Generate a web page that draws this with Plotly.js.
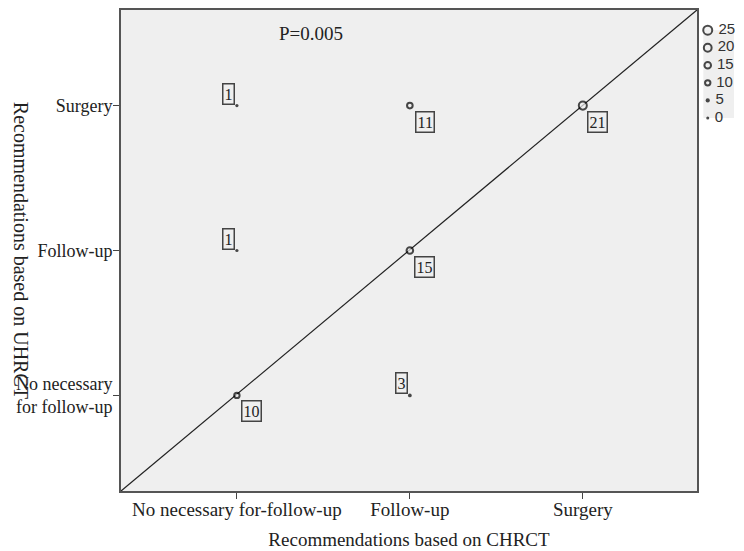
<!DOCTYPE html>
<html>
<head>
<meta charset="utf-8">
<script src="https://cdn.plot.ly/plotly-3.0.1.min.js"></script>
<style>html,body{margin:0;padding:0;background:#fff;}#chart{width:744px;height:551px;}</style>
</head>
<body>
<div id="chart"></div>
<script>
// Categories (index positions on each axis)
const xCategories = ["No necessary for-follow-up", "Follow-up", "Surgery"];
const yCategories = ["No necessary<br>for follow-up", "Follow-up", "Surgery"];

// Points: CHRCT category index, UHRCT category index, count
const pointX = [0, 1, 2, 0, 1, 0, 1];
const pointY = [2, 2, 2, 1, 1, 0, 0];
const counts = [1, 11, 21, 1, 15, 10, 3];
// label placement: +1 = below-right, -1 = above-left
const labelSide = [-1, 1, 1, -1, 1, 1, -1];

// Legend scale values
const legendValues = [25, 20, 15, 10, 5, 0];

const pText = "P=0.005";

function mSize(n){ return 3 + n * 0.24; }
function mFill(n){ return n <= 8 ? "#000" : "#efefef"; }
function mLine(n){ return n <= 8 ? 0 : 2; }

const serif = "Liberation Serif, Times New Roman, serif";

const traces = [
  {
    x: pointX, y: pointY, type: "scatter", mode: "markers",
    marker: {size: counts.map(mSize), color: counts.map(mFill),
             line: {color: "#000", width: counts.map(mLine)}},
    cliponaxis: false, hoverinfo: "none", showlegend: false
  },
  {
    x: legendValues.map(() => 0), y: legendValues, xaxis: "x2", yaxis: "y2",
    type: "scatter", mode: "markers+text",
    text: legendValues.map(v => "\u00a0" + v), textposition: "middle right",
    textfont: {family: "Liberation Sans, Arial, sans-serif", size: 15, color: "#333"},
    marker: {size: legendValues.map(mSize), color: legendValues.map(mFill),
             line: {color: "#000", width: legendValues.map(mLine)}},
    cliponaxis: false, hoverinfo: "none", showlegend: false
  }
];

const annotations = counts.map((n, i) => ({
  x: pointX[i], y: pointY[i], xref: "x", yref: "y",
  text: String(n), showarrow: false,
  xshift: labelSide[i] > 0 ? 15 : -8,
  yshift: labelSide[i] > 0 ? -16 : 12,
  font: {family: serif, size: 16, color: "#222"},
  bordercolor: "#444", borderwidth: 1.5, borderpad: 1, bgcolor: "rgba(0,0,0,0)"
}));
annotations.push({
  x: 0.43, y: 2.5, xref: "x", yref: "y", text: pText, showarrow: false,
  font: {family: serif, size: 19, color: "#222"}
});
annotations.push({
  xref: "paper", yref: "paper", x: -0.162, y: 0.5, xanchor: "center", yanchor: "middle",
  text: "Recommendations based on UHRCT", textangle: 90, showarrow: false,
  font: {family: serif, size: 20, color: "#222"}
});

const layout = {
  width: 744, height: 551,
  margin: {l: 121, r: 10, t: 10, b: 60},
  paper_bgcolor: "#ffffff", plot_bgcolor: "#efefef",
  showlegend: false,
  xaxis: {
    domain: [0, 0.9396], range: [-0.67, 2.66],
    tickvals: [0, 1, 2], ticktext: xCategories,
    ticks: "outside", ticklen: 6, tickcolor: "#444", tickwidth: 1,
    ticklabelstandoff: -6,
    showgrid: false, zeroline: false,
    showline: true, mirror: true, linecolor: "#555", linewidth: 2,
    tickfont: {family: serif, size: 19, color: "#222"},
    title: {text: "Recommendations based on CHRCT", font: {family: serif, size: 19, color: "#222"}, standoff: 14}
  },
  yaxis: {
    domain: [0, 1], range: [-0.66, 2.66],
    tickvals: [0, 1, 2], ticktext: yCategories,
    ticks: "outside", ticklen: 6, tickcolor: "#444", tickwidth: 1,
    ticklabelstandoff: -3,
    showgrid: false, zeroline: false,
    showline: true, mirror: true, linecolor: "#555", linewidth: 2,
    tickfont: {family: serif, size: 18, color: "#222"}
  },
  xaxis2: {domain: [0.95, 1], range: [-0.5, 3], visible: false, fixedrange: true},
  yaxis2: {domain: [0.7755, 0.958], range: [0, 25], visible: false, fixedrange: true, anchor: "x2"},
  shapes: [{
    type: "line", xref: "x domain", yref: "y domain", x0: 0, y0: 0, x1: 1, y1: 1,
    line: {color: "#222", width: 1.2}, layer: "below"
  }],
  annotations: annotations
};

Plotly.newPlot("chart", traces, layout, {displayModeBar: false, staticPlot: true});
</script>
</body>
</html>
